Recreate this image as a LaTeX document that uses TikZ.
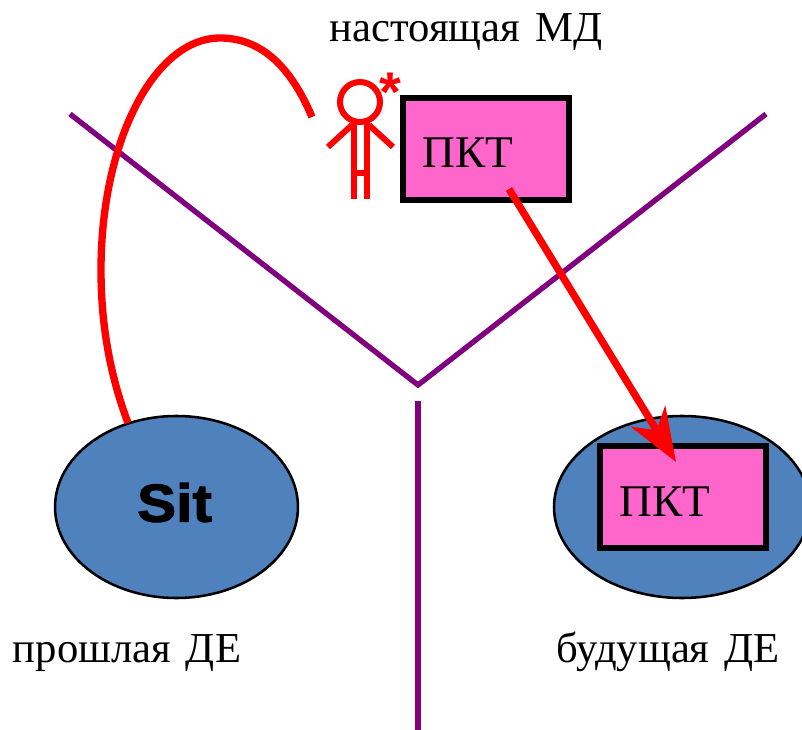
\documentclass[tikz,border=0pt]{standalone}
\usepackage{fontspec}
\setmainfont{Liberation Serif}
\newfontfamily\sitfont[UprightFont=* Bold,FakeStretch=1.1,FakeBold=2]{Liberation Sans}
\newfontfamily\starfont{Liberation Sans}
\usetikzlibrary{arrows.meta,shapes.geometric}
\definecolor{boxpink}{HTML}{FF66CC}
\definecolor{ellblue}{HTML}{4F81BD}
\definecolor{linepurple}{HTML}{800080}
\begin{document}
\begin{tikzpicture}[
        x=0.75pt,
        y=-0.75pt
    ]
    \tikzset{
        myell/.style = {ellipse, draw=black, line width=1.9pt, fill=ellblue, inner sep=0pt},
        mybox/.style = {rectangle, draw=black, line width=4.5pt, fill=boxpink, minimum width=124.5pt, minimum height=76.5pt,
            inner xsep=14.5pt, inner ysep=0pt, text width=95.5pt, align=left, text height=28.5pt, text depth=0pt, font=\fontsize{34}{34}\selectfont},
        mylabel/.style = {font=\fontsize{32}{32}\selectfont, inner sep=0pt, anchor=base},
        edgep/.style = {-,line width=4pt,linepurple},
        edger/.style = {line width=5.5pt,red},
        edgem/.style = {-,line width=4.5pt,red},
    }
    \useasboundingbox (0,0) rectangle (802,730);
    %
    \draw[edgep] (70,114) coordinate (yl) -- (418,385) coordinate (ym) -- (766,114) coordinate (yr);
    \draw[edgep] (418,401) coordinate (vt) -- (418,730) coordinate (vb);
    %
    \node[myell, minimum width=182.2pt, minimum height=136.5pt, font=\sitfont\fontsize{40}{40}\selectfont] at (176.5,507) (sit) {\raisebox{-11pt}[0pt][0pt]{Sit\hspace{3pt}}};
    \node[myell, minimum width=192pt, minimum height=136.5pt] at (682,507) (ell) {};
    \node[mybox] at (486,149) (pkta) {ПКТ};
    \node[mybox] at (683,497) (pktb) {ПКТ};
    %
    \node[mylabel] at (466,42) (now) {настоящая\hspace{0.1em} МД};
    \node[mylabel] at (127,662) (past) {прошлая\hspace{0.1em} ДЕ};
    \node[mylabel] at (668,662) (future) {будущая\hspace{0.1em} ДЕ};
    %
    \node[circle, draw=red, line width=4.5pt, minimum size=30pt, inner sep=0pt] at (360,102) (head) {};
    \node[text=red, inner sep=0pt, font=\starfont\bfseries\fontsize{42}{42}\selectfont] at (390,92) (star) {*};
    \coordinate (arml) at (328,147);
    \coordinate (armr) at (393,147);
    \draw[edgem] (354,122) -- (354,199);
    \draw[edgem] (367,122) -- (367,199);
    \draw[edgem] (354,173) -- (367,173);
    \draw[edgem] (352,125) -- (arml);
    \draw[edgem] (369,125) -- (armr);
    %
    \coordinate (cs) at (128,423);
    \coordinate (ce) at (312,117);
    \draw[edger] (cs) .. controls (110,375) and (101,325) .. (101,270)
        .. controls (101,140) and (155,38) .. (220,38)
        .. controls (260,38) and (290,65) .. (ce);
    \coordinate (as) at (509,189);
    \coordinate (ae) at (676,462);
    \draw[edger,-{Stealth[length=40pt,width=30pt,inset=12pt]}] (as) -- (ae);
\end{tikzpicture}
\end{document}
